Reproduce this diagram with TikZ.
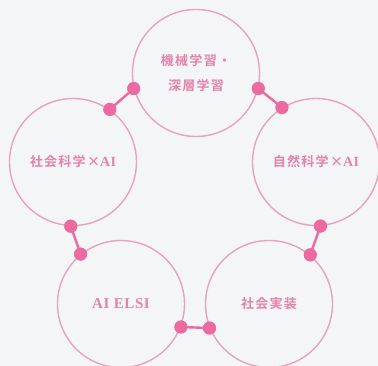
\documentclass[tikz,border=0pt]{standalone}
\usepackage{fontspec}
\setmainfont{Liberation Serif}
\newfontfamily\jpfont[LetterSpace=10,BoldFont={Noto Sans CJK JP Bold}]{Noto Sans CJK JP}
\newfontfamily\latfont[LetterSpace=4]{Liberation Serif}
\definecolor{bgc}{HTML}{F4F5F7}
\definecolor{ringc}{HTML}{E8A2BE}
\definecolor{dotc}{HTML}{EC6A9F}
\definecolor{txtc}{HTML}{E284AA}
\tikzset{
  ring/.style={circle, draw=ringc, line width=1.4pt, minimum size=127pt, inner sep=0pt,
    text=txtc, font=\fontsize{13}{25}\selectfont\jpfont\bfseries, align=center},
  joint/.style={circle, fill=dotc, minimum size=13pt, inner sep=0pt},
  link/.style={draw=dotc, line width=2.4pt}
}
\begin{document}
\begin{tikzpicture}[x=1pt,y=1pt]
\fill[bgc] (0,0) rectangle (378,366);
\useasboundingbox (0,0) rectangle (378,366);
\node[ring] (ml) at (196,293) {機械学習・\\深層学習};
\node[ring] (soc) at (73,204) {社会科学×{\latfont\fontsize{14}{16}\selectfont\bfseries AI}};
\node[ring] (nat) at (316,204) {自然科学×{\latfont\fontsize{14}{16}\selectfont\bfseries AI}};
\node[ring] (elsi) at (121,62) {{\latfont\fontsize{15}{17}\selectfont\bfseries AI ELSI}};
\node[ring] (impl) at (269,62) {社会実装};
% joints
\node[joint] (a1) at (ml.194) {};
\node[joint] (a2) at (soc.55) {};
\node[joint] (b1) at (ml.346) {};
\node[joint] (b2) at (nat.122) {};
\node[joint] (c1) at (nat.274) {};
\node[joint] (c2) at (impl.50) {};
\node[joint] (d1) at (soc.268) {};
\node[joint] (d2) at (elsi.129) {};
\node[joint] (e1) at (elsi.339) {};
\node[joint] (e2) at (impl.202) {};
\path[link] (a1.center) -- (a2.center);
\path[link] (b1.center) -- (b2.center);
\path[link] (c1.center) -- (c2.center);
\path[link] (d1.center) -- (d2.center);
\path[link] (e1.center) -- (e2.center);
\foreach \n in {a1,a2,b1,b2,c1,c2,d1,d2,e1,e2} {\fill[dotc] (\n) circle (6.5pt);}
\end{tikzpicture}
\end{document}
